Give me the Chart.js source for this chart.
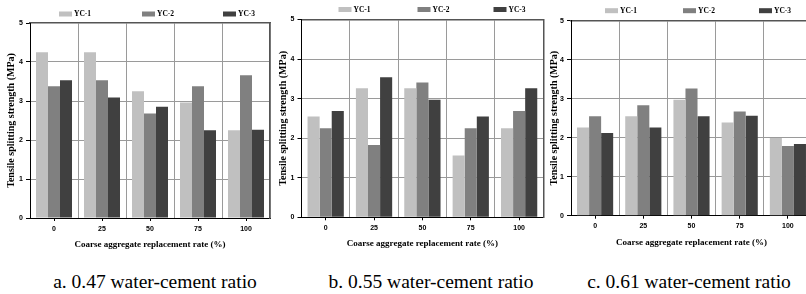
<!DOCTYPE html>
<html>
<head>
<meta charset="utf-8">
<script src="https://cdn.jsdelivr.net/npm/chart.js@4/dist/chart.umd.min.js"></script>
<style>
  html, body { margin: 0; padding: 0; background: #fff; }
  #wrap { position: relative; width: 806px; height: 294px; overflow: hidden; background: #fff; }
  .box { position: absolute; top: 0; }
  .cap { position: absolute; top: 270px; height: 24px; line-height: 24px; width: 260px; text-align: center;
         font-family: "Liberation Serif", "Times New Roman", serif; font-size: 19.5px; color: #000; white-space: nowrap; }
</style>
</head>
<body>
<div id="wrap">
  <div class="box" id="boxA"><canvas id="chartA"></canvas></div>
  <div class="box" id="boxB"><canvas id="chartB"></canvas></div>
  <div class="box" id="boxC"><canvas id="chartC"></canvas></div>
  <div class="cap" style="left:25px">a. 0.47 water-cement ratio</div>
  <div class="cap" style="left:301px">b. 0.55 water-cement ratio</div>
  <div class="cap" style="left:559px">c. 0.61 water-cement ratio</div>
</div>
<script>
// data
const categories = ['0', '25', '50', '75', '100']
const seriesNames = ['YC-1', 'YC-2', 'YC-3']
const yTicks = [0, 1, 2, 3, 4, 5]

const a_yc1 = [4.25, 4.25, 3.25, 2.96, 2.25]
const a_yc2 = [3.38, 3.53, 2.68, 3.38, 3.66]
const a_yc3 = [3.53, 3.09, 2.85, 2.25, 2.26]

const b_yc1 = [2.55, 3.26, 3.26, 1.56, 2.25]
const b_yc2 = [2.25, 1.83, 3.41, 2.25, 2.69]
const b_yc3 = [2.69, 3.54, 2.97, 2.55, 3.26]

const c_yc1 = [2.26, 2.55, 2.97, 2.39, 1.99]
const c_yc2 = [2.55, 2.83, 3.26, 2.67, 1.79]
const c_yc3 = [2.12, 2.26, 2.55, 2.56, 1.84]

const barColors = ['#c0c0c0', '#808080', '#404040']

// legend drawn spread out above the plot
const spreadLegend = {
  id: 'spreadLegend',
  afterDraw(chart, args, opts) {
    const ctx = chart.ctx
    const area = chart.chartArea
    ctx.save()
    ctx.font = 'bold 7.5px "Liberation Serif"'
    ctx.textBaseline = 'middle'
    ctx.textAlign = 'left'
    chart.data.datasets.forEach((ds, i) => {
      const x = area.left + opts.xs[i]
      const y = area.top - opts.dy
      ctx.fillStyle = ds.backgroundColor
      ctx.fillRect(x, y - 2.5, 13, 5)
      ctx.fillStyle = '#000'
      ctx.fillText(ds.label, x + 15, y + 0.5)
    })
    ctx.restore()
  }
}

const tickFont = { family: '"Liberation Sans", Arial', size: 7, weight: 'bold' }
const titleFont9 = { family: '"Liberation Serif", "Times New Roman"', size: 9, weight: 'bold' }
const titleFont10 = { family: '"Liberation Serif", "Times New Roman"', size: 10, weight: 'bold' }

makeChart = (id, boxId, p, s1, s2, s3) => {
  const box = document.getElementById(boxId)
  box.style.left = p.left + 'px'
  box.style.width = p.w + 'px'
  box.style.height = p.h + 'px'
  const canvas = document.getElementById(id)
  canvas.width = p.w
  canvas.height = p.h
  canvas.style.width = p.w + 'px'
  canvas.style.height = p.h + 'px'

  const series = [s1, s2, s3]
  const datasets = seriesNames.map((name, i) => ({
    label: name,
    data: series[i],
    backgroundColor: barColors[i],
    borderWidth: 0,
    barPercentage: 1.0,
    categoryPercentage: 0.75
  }))

  return new Chart(canvas.getContext('2d'), {
    type: 'bar',
    data: { labels: categories, datasets: datasets },
    plugins: [spreadLegend],
    options: {
      responsive: false,
      animation: false,
      devicePixelRatio: 1,
      layout: { padding: { top: p.top, right: p.padR, left: 0, bottom: 0 } },
      plugins: {
        legend: { display: false },
        tooltip: { enabled: false },
        spreadLegend: { xs: p.legendXs, dy: p.legendDy }
      },
      scales: {
        x: {
          position: 'bottom',
          offset: true,
          grid: { offset: false, drawOnChartArea: false, drawTicks: true, tickLength: 3, tickColor: '#000' },
          border: { color: '#000', width: 1 },
          ticks: { color: '#000', font: tickFont, padding: 3.5, maxRotation: 0 },
          title: { display: true, text: 'Coarse aggregate replacement rate (%)', color: '#000', font: titleFont9,
                   padding: { top: 0, bottom: p.xTitlePad } },
          afterFit: (s) => { s.height = p.h - p.bottom }
        },
        xg: {
          type: 'category',
          position: 'top',
          offset: true,
          grid: {
            offset: true, drawTicks: false, lineWidth: 1,
            color: (c) => (c.index === 0 || c.index === categories.length) ? 'rgba(0,0,0,0)' : '#9a9a9a'
          },
          border: { color: '#555', width: 1.5 },
          ticks: { display: false },
          afterFit: (s) => { s.height = 0 }
        },
        y: {
          min: 0,
          max: 5,
          afterBuildTicks: (s) => { s.ticks = yTicks.map(v => ({ value: v })) },
          grid: {
            tickLength: 4, tickColor: '#000', lineWidth: 1,
            color: (c) => (c.index === 0 || c.index === yTicks.length - 1) ? 'rgba(0,0,0,0)' : '#9a9a9a'
          },
          border: { color: '#000', width: 1 },
          ticks: { color: '#000', font: tickFont, padding: 3 },
          title: { display: true, text: 'Tensile splitting strength (MPa)', color: '#000', font: titleFont10,
                   padding: { top: p.yTitlePad, bottom: 0 } },
          afterFit: (s) => { s.width = p.yw }
        },
        yr: {
          type: 'linear',
          position: 'right',
          grid: { drawOnChartArea: false, drawTicks: false },
          border: { color: '#555', width: 1.5 },
          ticks: { display: false },
          afterFit: (s) => { s.width = 0 }
        }
      }
    }
  })
}

const H = 256
makeChart('chartA', 'boxA', { left: 0, w: 274, h: H, yw: 30, top: 23, bottom: 218, padR: 4,
  legendXs: [29, 112, 193], legendDy: 9, xTitlePad: 5.6, yTitlePad: 5.5 }, a_yc1, a_yc2, a_yc3)
makeChart('chartB', 'boxB', { left: 272, w: 274, h: H, yw: 29.5, top: 19.5, bottom: 217.3, padR: 2.7,
  legendXs: [37, 116, 192], legendDy: 10, xTitlePad: 6.6, yTitlePad: 5.5 }, b_yc1, b_yc2, b_yc3)
makeChart('chartC', 'boxC', { left: 541, w: 274, h: H, yw: 30, top: 20.7, bottom: 215.7, padR: 3,
  legendXs: [34, 112, 188], legendDy: 10, xTitlePad: 7.9, yTitlePad: 7.5 }, c_yc1, c_yc2, c_yc3)
</script>
</body>
</html>
